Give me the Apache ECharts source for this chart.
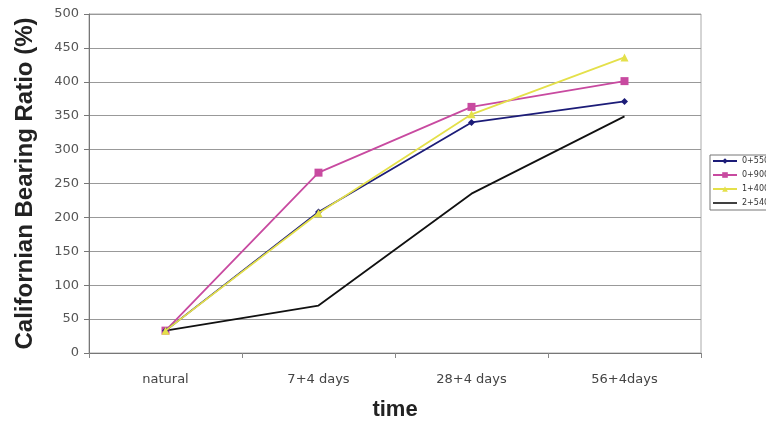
<!DOCTYPE html>
<html><head><meta charset="utf-8">
<script src="https://cdn.jsdelivr.net/npm/echarts@6/dist/echarts.min.js"></script>
<style>html,body{margin:0;padding:0;background:#fff;}#c{width:766px;height:421px;}</style>
</head><body><div id="c"></div>
<script>
const categories = ['natural', '7+4 days', '28+4 days', '56+4days'];
const seriesNames = ['0+550', '0+900', '1+400', '2+540'];
const s0550 = [33, 208, 340, 371];
const s0900 = [33, 266, 363, 401];
const s1400 = [33, 206, 352, 436];
const s2540 = [33, 70, 235, 349];
const yTicks = [0, 50, 100, 150, 200, 250, 300, 350, 400, 450, 500];

const colors = ['#1c1c78', '#c84aa0', '#e4e04a', '#111111'];
const symbols = ['diamond', 'rect', 'triangle', 'none'];
const sizes = [7, 8, 8, 0];
const data = [s0550, s0900, s1400, s2540];
const FONT = 'DejaVu Sans, Liberation Sans, Arial';
const TFONT = 'Liberation Sans, Arial';

const chart = echarts.init(document.getElementById('c'));
chart.setOption({
  animation: false,
  grid: { left: 89, right: 65, top: 14, bottom: 68, outerBoundsMode: 'none', containLabel: false,
          show: true, borderColor: '#aaaaaa', borderWidth: 1 },
  legend: {
    orient: 'vertical', left: 710, top: 155,
    itemWidth: 24, itemHeight: 7, itemGap: 6,
    padding: [2, 40, 3, 2],
    borderColor: '#777', borderWidth: 1,
    textStyle: { fontSize: 8, color: '#333', fontFamily: FONT },
    data: seriesNames.map((n, i) => symbols[i] === 'none'
      ? { name: n, icon: 'path://M0,0L24,0L24,1.6L0,1.6Z' }
      : { name: n })
  },
  xAxis: {
    type: 'category', data: categories,
    axisLine: { lineStyle: { color: '#777', width: 1 } },
    axisTick: { show: true, length: 5, lineStyle: { color: '#888' } },
    axisLabel: { color: '#444', fontSize: 13, margin: 20, fontFamily: FONT },
    name: 'time', nameLocation: 'middle', nameGap: 46,
    nameTextStyle: { fontSize: 22, fontWeight: 'bold', color: '#222', fontFamily: TFONT }
  },
  yAxis: {
    type: 'value', min: yTicks[0], max: yTicks[yTicks.length - 1], interval: 50,
    axisLine: { show: true, lineStyle: { color: '#777', width: 1 } },
    axisTick: { show: true, length: 5, lineStyle: { color: '#777' } },
    axisLabel: { color: '#555', fontSize: 13, margin: 10, fontFamily: FONT },
    splitLine: { lineStyle: { color: '#999', width: 1 } },
    name: 'Californian Bearing Ratio (%)', nameLocation: 'middle', nameGap: 52,
    nameTextStyle: { fontSize: 24, fontWeight: 'bold', color: '#222', fontFamily: TFONT }
  },
  series: seriesNames.map((n, i) => ({
    name: n, type: 'line', data: data[i],
    symbol: symbols[i], symbolSize: sizes[i], showSymbol: symbols[i] !== 'none',
    lineStyle: { color: colors[i], width: 1.8 },
    itemStyle: { color: colors[i] },
    z: [3, 2, 4, 1][i]
  }))
});
</script>
</body></html>
